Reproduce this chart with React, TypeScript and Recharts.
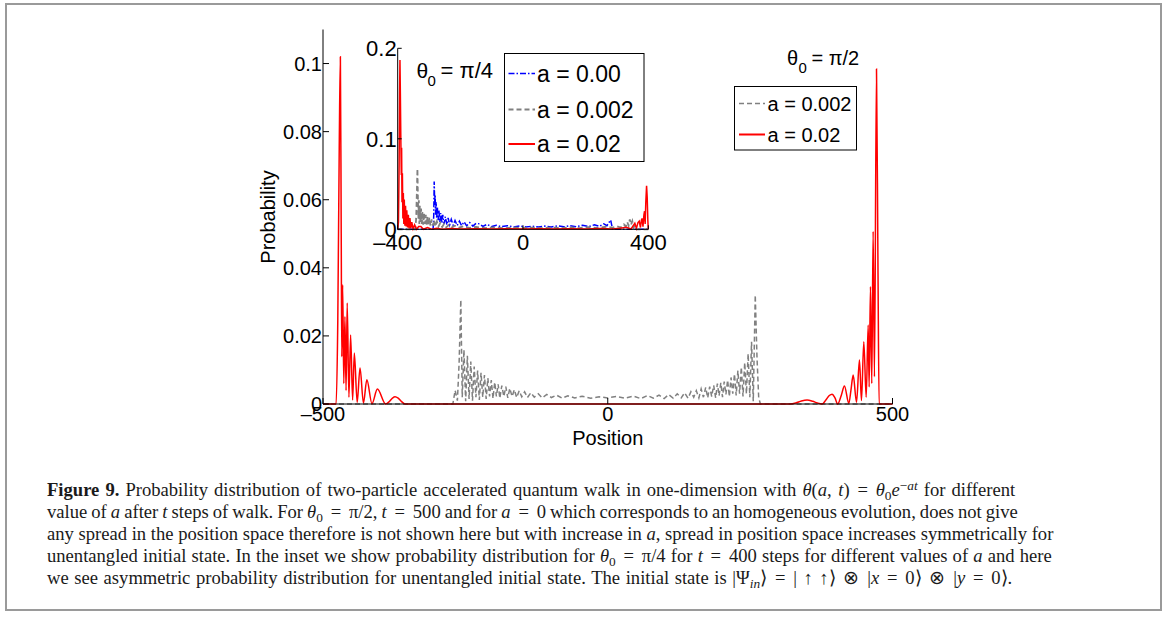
import React from "react";
import { LineChart, Line, XAxis, YAxis, CartesianGrid } from "recharts";

// tick values
const mainXTicks = [-500, 0, 500];
const mainYTicks = [0, 0.02, 0.04, 0.06, 0.08, 0.1];
const insetXTicks = [-400, 0, 400];
const insetYTicks = [0, 0.1, 0.2];

type Pt = [number, number];

// main panel: theta0 = pi/2, t = 500   [position, probability]
const mainGray: Pt[] = [
  [-500, 0], [-272, 0], [-268, 0.004], [-264, 0.001], [-261, 0.012], [-258, 0.0306], [-255.5, 0.002],
  [-252.5, 0.0159], [-249.5, 0.0008], [-246.5, 0.0142], [-243.5, 0.0015], [-240.5, 0.0125], [-237.5, 0.001],
  [-234.5, 0.011], [-231.5, 0.002], [-228.5, 0.0098], [-225.5, 0.0012], [-222.5, 0.0092], [-219.5, 0.002],
  [-216.5, 0.0085], [-213.5, 0.0015], [-210.5, 0.0076], [-207.5, 0.0022], [-204.5, 0.007], [-201.5, 0.0016],
  [-198.5, 0.0064], [-195.5, 0.0022], [-192.5, 0.0058], [-189.5, 0.0017], [-186, 0.0054], [-182.5, 0.0022],
  [-179, 0.0051], [-175.5, 0.0018], [-172, 0.0046], [-168, 0.0022], [-164, 0.0042], [-160, 0.0019],
  [-155.5, 0.0039], [-151, 0.0021], [-146, 0.0036], [-141, 0.0019], [-135, 0.0033], [-129, 0.002],
  [-122, 0.003], [-115, 0.0018], [-107, 0.0028], [-99, 0.0019], [-90, 0.0026], [-80, 0.0017], [-70, 0.0024],
  [-58, 0.0018], [-45, 0.0023], [-30, 0.0017], [-15, 0.0021], [0, 0.0018], [15, 0.0022], [30, 0.0017],
  [45, 0.0023], [58, 0.0016], [70, 0.0025], [80, 0.0017], [90, 0.0026], [99, 0.0016], [107, 0.0028],
  [115, 0.0017], [122, 0.003], [129, 0.0018], [135, 0.0033], [141, 0.0017], [146, 0.0036], [151, 0.002],
  [155.5, 0.0039], [160, 0.0018], [164, 0.0044], [168, 0.002], [172, 0.0049], [175.5, 0.0018], [179, 0.0051],
  [182.5, 0.0022], [186, 0.0055], [189.5, 0.0018], [192.5, 0.006], [195.5, 0.0024], [198.5, 0.0062],
  [201.5, 0.002], [204.5, 0.0066], [207.5, 0.0028], [210.5, 0.007], [213.5, 0.0022], [216.5, 0.0078],
  [219.5, 0.003], [222.5, 0.0088], [225.5, 0.0025], [228.5, 0.0098], [231.5, 0.003], [234.5, 0.0108],
  [237.5, 0.0022], [240.5, 0.0122], [243.5, 0.003], [246.5, 0.0148], [249.5, 0.002], [252.5, 0.0183],
  [255.5, 0.0008], [259, 0.032], [262, 0.014], [265, 0.002], [268, 0], [500, 0],
];

const mainRed: Pt[] = [
  [-500, 0], [-477, 0], [-474, 0.025], [-471.5, 0.075], [-469.5, 0.102], [-468, 0.05], [-467, 0.0139],
  [-465.5, 0.035], [-463.5, 0.006], [-461.5, 0.0257], [-459.5, 0.004], [-457.5, 0.0297], [-454.5, 0.002],
  [-451.5, 0.0203], [-448, 0.0012], [-445, 0.015], [-440, 0.0005], [-435, 0.0106], [-429, 0.0003],
  [-423, 0.0071], [-414, 0.0001], [-404.5, 0.0044], [-390, 0], [-383, 0.0008], [-378, 0.0017],
  [-373.5, 0.0021], [-368, 0.0017], [-362, 0.0007], [-356, 0], [320, 0], [330, 0.0003], [340, 0.0009],
  [350, 0.0012], [360, 0.0008], [368, 0.0003], [376.5, 0], [383, 0.0012], [389, 0.0025], [394, 0.0029],
  [399, 0.0018], [403.8, 0], [410, 0.0025], [415.6, 0.0053], [423.3, 0.0002], [427, 0.004], [431, 0.0085],
  [436.8, 0.0005], [442, 0.0129], [445.5, 0.001], [449.6, 0.0183], [453.8, 0.002], [457.3, 0.0232],
  [459, 0.005], [461.3, 0.0345], [463.6, 0.006], [466, 0.0507], [468.3, 0.008], [471.9, 0.0984],
  [474.5, 0.04], [476.5, 0], [500, 0],
];

// inset: theta0 = pi/4, t = 400
const insetBlue: Pt[] = [
  [-400, 0], [-287, 0], [-285, 0.015], [-283.5, 0.0527], [-282, 0.03], [-280.5, 0.038], [-279, 0.016],
  [-277.5, 0.03], [-275.5, 0.012], [-273.5, 0.025], [-271, 0.01], [-268.5, 0.021], [-265.5, 0.008],
  [-262.5, 0.018], [-259, 0.007], [-256, 0.016], [-252, 0.006], [-248, 0.014], [-243, 0.005], [-239, 0.0125],
  [-234, 0.005], [-229, 0.011], [-223, 0.0045], [-217, 0.0098], [-210, 0.0042], [-203, 0.009], [-196, 0.004],
  [-188, 0.0082], [-180, 0.0038], [-170, 0.0074], [-160, 0.0035], [-150, 0.0066], [-139, 0.006],
  [-128, 0.0032], [-115, 0.0055], [-100, 0.003], [-85, 0.0045], [-70, 0.0028], [-50, 0.004], [-30, 0.0026],
  [-10, 0.0036], [10, 0.0025], [30, 0.0035], [50, 0.0025], [70, 0.0036], [90, 0.0026], [110, 0.0038],
  [130, 0.0027], [150, 0.004], [170, 0.0028], [190, 0.0044], [210, 0.003], [228, 0.005], [244, 0.0032],
  [258, 0.006], [268, 0.004], [275, 0.0078], [280, 0.0103], [283, 0.005], [286, 0], [400, 0],
];

const insetGray: Pt[] = [
  [-400, 0], [-344, 0], [-341, 0.012], [-338.5, 0.045], [-337, 0.067], [-335.5, 0.035], [-334, 0.012],
  [-332.5, 0.032], [-331, 0.006], [-329.5, 0.026], [-327.5, 0.008], [-325.5, 0.023], [-323, 0.006],
  [-321, 0.02], [-318.5, 0.005], [-316, 0.018], [-313, 0.006], [-310.5, 0.016], [-307.5, 0.005],
  [-305, 0.014], [-302, 0.005], [-299, 0.013], [-295.5, 0.004], [-292, 0.011], [-288, 0.004], [-284, 0.01],
  [-280, 0.003], [-275, 0.0085], [-270, 0.003], [-264, 0.0072], [-258, 0.0025], [-252, 0.006],
  [-245, 0.0022], [-237, 0.0048], [-228, 0.002], [-218, 0.004], [-205, 0.0018], [-190, 0.0032],
  [-170, 0.0016], [-150, 0.0026], [-120, 0.0014], [-90, 0.0022], [-60, 0.0012], [-30, 0.002], [0, 0.0012],
  [30, 0.0019], [60, 0.0012], [90, 0.002], [120, 0.0013], [150, 0.0022], [180, 0.0014], [210, 0.0024],
  [240, 0.0015], [265, 0.0028], [285, 0.0018], [300, 0.0032], [312, 0.002], [322, 0.0055], [328, 0.003],
  [333, 0.008], [337, 0.004], [341, 0.011], [345, 0.005], [349, 0.009], [353, 0.002], [358, 0.0045],
  [363, 0], [400, 0],
];

const insetRed: Pt[] = [
  [-400, 0], [-397.5, 0.008], [-395.5, 0.07], [-394, 0.15], [-392.8, 0.187], [-391.5, 0.15], [-390, 0.1],
  [-388.5, 0.06], [-387.5, 0.09], [-386.3, 0.03], [-385, 0.062], [-383.5, 0.012], [-382, 0.04],
  [-380.5, 0.006], [-379, 0.033], [-377, 0.004], [-375, 0.026], [-373, 0.003], [-371, 0.021],
  [-368.5, 0.002], [-366, 0.016], [-363.5, 0.001], [-361, 0.0125], [-358, 0.001], [-355, 0.008],
  [-351, 0.0005], [-346, 0.005], [-340, 0], [-333, 0.003], [-326, 0.0032], [-318, 0], [-305, 0.0018],
  [-292, 0], [-275, 0.0012], [-258, 0], [-230, 0.0008], [-200, 0.0003], [-150, 0.0006], [-100, 0.0003],
  [-50, 0.0005], [0, 0.0003], [50, 0.0005], [100, 0.0003], [150, 0.0006], [200, 0.0003], [250, 0.0008],
  [285, 0.0002], [310, 0.0012], [330, 0.0023], [345, 0.0003], [352, 0.004], [357, 0.0066], [362, 0.001],
  [367, 0.0075], [371, 0.009], [375, 0.002], [378, 0.01], [380, 0.012], [383, 0.003], [386, 0.016],
  [388, 0.02], [390, 0.006], [392, 0.03], [394.5, 0.048], [396.5, 0.035], [398.5, 0.01], [400, 0],
];

const mainLabels = ["a = 0.002", "a = 0.02"];
const insetLabels = ["a = 0.00", "a = 0.002", "a = 0.02"];

const RED = "#ff0000";
const GRAY = "#808080";
const BLUE = "#0000ff";
const GRAY_DASH = "5 3";
const BLUE_DASH = "6 2 1.5 2";

const sans = '"Liberation Sans", Arial, Helvetica, sans-serif';
const serif = '"Liberation Serif", "Times New Roman", serif';

const rows = (pts: Pt[]) => pts.map(([x, p]) => ({ x, p }));
const fmtX = (v: number) => (v < 0 ? "\u2013" + Math.abs(v) : String(v));
const fmtY = (v: number) => String(v);

function MainPlot() {
  const tick = { fontSize: 20, fill: "#000" };
  return (
    <LineChart width={1165} height={617} margin={{ top: 29.5, right: 272.5, bottom: 183, left: 263 }}>
      <XAxis dataKey="x" type="number" domain={[-500, 500]} ticks={mainXTicks} interval={0}
        tickFormatter={fmtX} tick={tick} tickSize={-6} tickMargin={9} stroke="#000" height={30} />
      <XAxis xAxisId="top" orientation="top" dataKey="x" type="number" domain={[-500, 500]}
        ticks={mainXTicks} interval={0} tick={false} tickSize={-6} stroke="#000" height={0} />
      <YAxis type="number" domain={[0, 0.11]} ticks={mainYTicks} interval={0} tickFormatter={fmtY}
        tick={tick} tickSize={-6} tickMargin={7} stroke="#000" width={60} />
      <YAxis yAxisId="right" orientation="right" type="number" domain={[0, 0.11]} ticks={mainYTicks}
        interval={0} tick={false} tickSize={-6} stroke="#000" width={0} />
      <Line data={rows(mainGray)} dataKey="p" type="linear" dot={false} stroke={GRAY} strokeWidth={1.5}
        strokeDasharray={GRAY_DASH} isAnimationActive={false} />
      <Line data={rows(mainRed)} dataKey="p" type="monotone" dot={false} stroke={RED} strokeWidth={1.5}
        isAnimationActive={false} />
    </LineChart>
  );
}

function InsetPlot() {
  const tick = { fontSize: 22, fill: "#000" };
  return (
    <LineChart width={360} height={260} margin={{ top: 30.3, right: 29.7, bottom: 18.7, left: 19.7 }}>
      <CartesianGrid horizontal={false} vertical={false} fill="#fff" />
      <XAxis dataKey="x" type="number" domain={[-400, 400]} ticks={insetXTicks} interval={0}
        tickFormatter={fmtX} tick={tick} tickSize={-4} tickMargin={9} stroke="#000" height={30} />
      <XAxis xAxisId="top" orientation="top" dataKey="x" type="number" domain={[-400, 400]}
        ticks={insetXTicks} interval={0} tick={false} tickSize={-4} stroke="#000" height={0} />
      <YAxis type="number" domain={[0, 0.2]} ticks={insetYTicks} interval={0} tickFormatter={fmtY}
        tick={tick} tickSize={-4} tickMargin={5} stroke="#000" width={60} />
      <YAxis yAxisId="right" orientation="right" type="number" domain={[0, 0.2]} ticks={insetYTicks}
        interval={0} tick={false} tickSize={-4} stroke="#000" width={0} />
      <Line data={rows(insetBlue)} dataKey="p" type="linear" dot={false} stroke={BLUE} strokeWidth={1.5}
        strokeDasharray={BLUE_DASH} isAnimationActive={false} />
      <Line data={rows(insetGray)} dataKey="p" type="linear" dot={false} stroke={GRAY} strokeWidth={1.8}
        strokeDasharray={GRAY_DASH} isAnimationActive={false} />
      <Line data={rows(insetRed)} dataKey="p" type="linear" dot={false} stroke={RED} strokeWidth={1.5}
        isAnimationActive={false} />
    </LineChart>
  );
}

function Annotations() {
  return (
    <svg width={1165} height={617} style={{ position: "absolute", left: 0, top: 0, pointerEvents: "none" }}
      fontFamily={sans} fill="#000">
      {/* axis titles */}
      <text x={607.75} y={445} fontSize={20} textAnchor="middle">Position</text>
      <text x={275} y={217} fontSize={20} textAnchor="middle" transform="rotate(-90 275 217)">Probability</text>

      {/* main legend */}
      <text x={787} y={65} fontSize={20}>θ</text>
      <text x={798.5} y={73} fontSize={15}>0</text>
      <text x={811.5} y={65} fontSize={20}>= π/2</text>
      <rect x={734.5} y={86.5} width={122} height={63.5} fill="#fff" stroke="#000" strokeWidth={1} />
      <line x1={739} x2={765} y1={103.5} y2={103.5} stroke={GRAY} strokeWidth={1.5} strokeDasharray={GRAY_DASH} />
      <text x={767.5} y={110.5} fontSize={20}>{mainLabels[0]}</text>
      <line x1={739} x2={765} y1={134.5} y2={134.5} stroke={RED} strokeWidth={2} />
      <text x={767.5} y={141.5} fontSize={20}>{mainLabels[1]}</text>

      {/* inset legend */}
      <text x={416.5} y={78} fontSize={21}>θ</text>
      <text x={427.5} y={85.5} fontSize={15}>0</text>
      <text x={440.5} y={77.5} fontSize={22}>= π/4</text>
      <rect x={504.5} y={53.5} width={139.5} height={108} fill="#fff" stroke="#000" strokeWidth={1} />
      <line x1={508.5} x2={535} y1={73.5} y2={73.5} stroke={BLUE} strokeWidth={1.5} strokeDasharray={BLUE_DASH} />
      <text x={537} y={81.5} fontSize={23}>{insetLabels[0]}</text>
      <line x1={508.5} x2={535} y1={109.5} y2={109.5} stroke={GRAY} strokeWidth={1.8} strokeDasharray={GRAY_DASH} />
      <text x={537} y={117.5} fontSize={23}>{insetLabels[1]}</text>
      <line x1={508.5} x2={535} y1={144} y2={144} stroke={RED} strokeWidth={2} />
      <text x={537} y={152} fontSize={23}>{insetLabels[2]}</text>
    </svg>
  );
}

const Sub = ({ children }: { children: React.ReactNode }) => (
  <span style={{ fontSize: "0.72em", position: "relative", top: "0.3em", lineHeight: 0 }}>{children}</span>
);
const Sup = ({ children }: { children: React.ReactNode }) => (
  <span style={{ fontSize: "0.72em", position: "relative", top: "-0.45em", lineHeight: 0 }}>{children}</span>
);
// relation sign with math spacing
const Eq = ({ children = "=" }: { children?: React.ReactNode }) => (
  <span style={{ margin: "0 0.42em" }}>{children}</span>
);
const Gap = () => <span style={{ marginLeft: "0.35em" }} />;

function Caption() {
  return (
    <div style={{ position: "absolute", left: 47, top: 478.7, fontFamily: serif, fontSize: 18.6, lineHeight: "22px",
      whiteSpace: "nowrap", color: "#1a1a1a" }}>
      <div style={{ wordSpacing: "1.4px" }}><b>Figure 9.</b> Probability distribution of two-particle accelerated quantum
        walk in one-dimension with{" "}
        <i>θ</i>(<i>a</i>,<Gap /><i>t</i>)<Eq /><i>θ</i><Sub>0</Sub><i>e</i>
        <Sup>−<i>at</i></Sup> for different</div>
      <div style={{ wordSpacing: "-0.6px" }}>value of <i>a</i> after <i>t</i> steps of walk. For <i>θ</i><Sub>0</Sub><Eq />π/2,
        {" "}<i>t</i><Eq />500 and for <i>a</i><Eq />0 which corresponds to an homogeneous evolution, does not give</div>
      <div>any spread in the position space therefore is not shown here but with increase in <i>a</i>, spread in
        position space increases symmetrically for</div>
      <div style={{ wordSpacing: "0.5px" }}>unentangled initial state. In the inset we show probability distribution for{" "}
        <i>θ</i><Sub>0</Sub><Eq />π/4 for <i>t</i><Eq />400 steps for different values of <i>a</i> and here</div>
      <div style={{ wordSpacing: "0.95px" }}>we see asymmetric probability distribution for unentangled initial state. The
        initial state is |Ψ<Sub><i>in</i></Sub>⟩<Eq />|<Gap />↑<Gap />↑⟩<Eq>⊗</Eq>|<i>x</i><Eq />0⟩<Eq>⊗</Eq>
        |<i>y</i><Eq />0⟩.</div>
    </div>
  );
}

export default function App() {
  return (
    <div style={{ position: "absolute", left: 0, top: 0, width: 1165, height: 617, background: "#fff",
      fontFamily: sans, overflow: "hidden" }}>
      <div style={{ position: "absolute", left: 5, top: 3, width: 1157, height: 608, border: "2px solid #9a9a9a",
        boxSizing: "border-box" }} />
      <div style={{ position: "absolute", left: 0, top: 0 }}><MainPlot /></div>
      <div style={{ position: "absolute", left: 318, top: 18 }}><InsetPlot /></div>
      <Annotations />
      <Caption />
    </div>
  );
}
